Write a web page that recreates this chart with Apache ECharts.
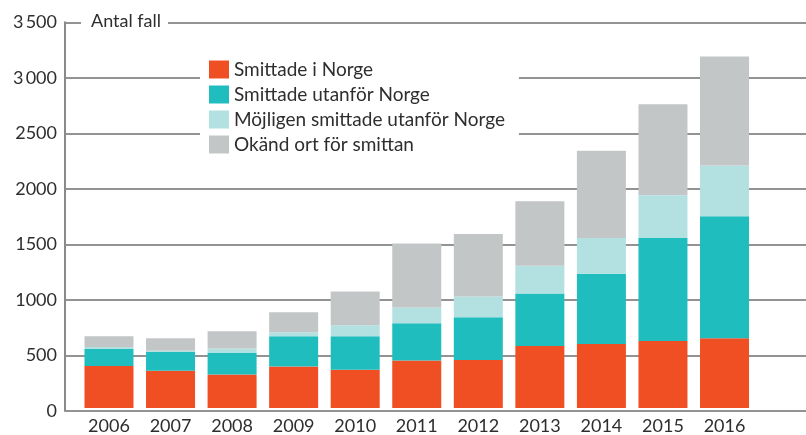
<!DOCTYPE html>
<html>
<head>
<meta charset="utf-8">
<script src="https://cdn.jsdelivr.net/npm/echarts@6/dist/echarts.min.js"></script>
<style>
html,body{margin:0;padding:0;background:#fff;}
#chart{width:806px;height:435px;}
</style>
</head>
<body>
<div id="chart"></div>
<script>
const years = ['2006','2007','2008','2009','2010','2011','2012','2013','2014','2015','2016'];
const smittadeINorge = [382, 337, 304, 376, 346, 430, 436, 562, 580, 607, 634];
const smittadeUtanfor = [153, 171, 196, 276, 306, 339, 387, 477, 639, 936, 1107];
const mojligenUtanfor = [18, 12, 39, 36, 99, 144, 189, 252, 324, 387, 459];
const okandOrt = [99, 114, 158, 180, 306, 579, 567, 585, 792, 827, 990];
const yTickValues = [0, 500, 1000, 1500, 2000, 2500, 3000, 3500];
const yTickLabels = ['0', '500', '1000', '1500', '2000', '2500', '3\u2009000', '3\u2009500'];
const seriesNames = ['Smittade i Norge', 'Smittade utanför Norge', 'Möjligen smittade utanför Norge', 'Okänd ort för smittan'];
const colors = ['#F04E23', '#20BDBE', '#B3E0E0', '#C3C6C6'];
const yTitle = 'Antal fall';

const FONT = 'Lato, sans-serif';
const TXT = '#2e2e2e';
const chart = echarts.init(document.getElementById('chart'), null, {renderer: 'canvas'});
const seriesData = [smittadeINorge, smittadeUtanfor, mojligenUtanfor, okandOrt];

chart.setOption({
  animation: false,
  backgroundColor: '#fff',
  textStyle: {fontFamily: FONT},
  grid: [
    {left: 65, right: 0, top: 22.3, bottom: 24},
    {left: 78.2, right: 50.7, top: 22.3, bottom: 24}
  ],
  xAxis: [
    {gridIndex: 0, type: 'value', min: 0, max: 1, show: false},
    {gridIndex: 1, type: 'category', data: years,
     axisLine: {show: false}, axisTick: {show: false},
     axisLabel: {color: TXT, fontSize: 18, fontFamily: FONT, margin: 9}}
  ],
  yAxis: [
    {gridIndex: 0, type: 'value', min: 0, max: 3500, interval: 500,
     axisLine: {show: true, lineStyle: {color: '#8a8a8a', width: 2}},
     axisTick: {show: false},
     splitLine: {show: true, lineStyle: {color: '#6f6f6f', width: 1.5}},
     axisLabel: {color: TXT, fontSize: 18, fontFamily: FONT, margin: 8,
       formatter: v => yTickLabels[yTickValues.indexOf(v)]}},
    {gridIndex: 1, type: 'value', min: 0, max: 3500, interval: 500, show: false}
  ],
  legend: {
    orient: 'vertical', left: 200, top: 52,
    backgroundColor: '#fff',
    padding: [8, 14, 10, 9],
    itemWidth: 20, itemHeight: 18, itemGap: 6,
    icon: 'rect',
    textStyle: {color: TXT, fontSize: 19, fontFamily: FONT, lineHeight: 18},
    data: seriesNames
  },
  graphic: [{
    type: 'text', left: 81, top: 11, z: 100,
    style: {text: yTitle, fill: TXT, font: '18px ' + FONT,
      backgroundColor: '#fff', padding: [1, 7, 1, 10]}
  }],
  series: seriesNames.map((n, i) => ({
    name: n, type: 'bar', stack: 'total', xAxisIndex: 1, yAxisIndex: 1,
    barWidth: 49, itemStyle: {color: colors[i]}, data: seriesData[i]
  }))
});
</script>
</body>
</html>
